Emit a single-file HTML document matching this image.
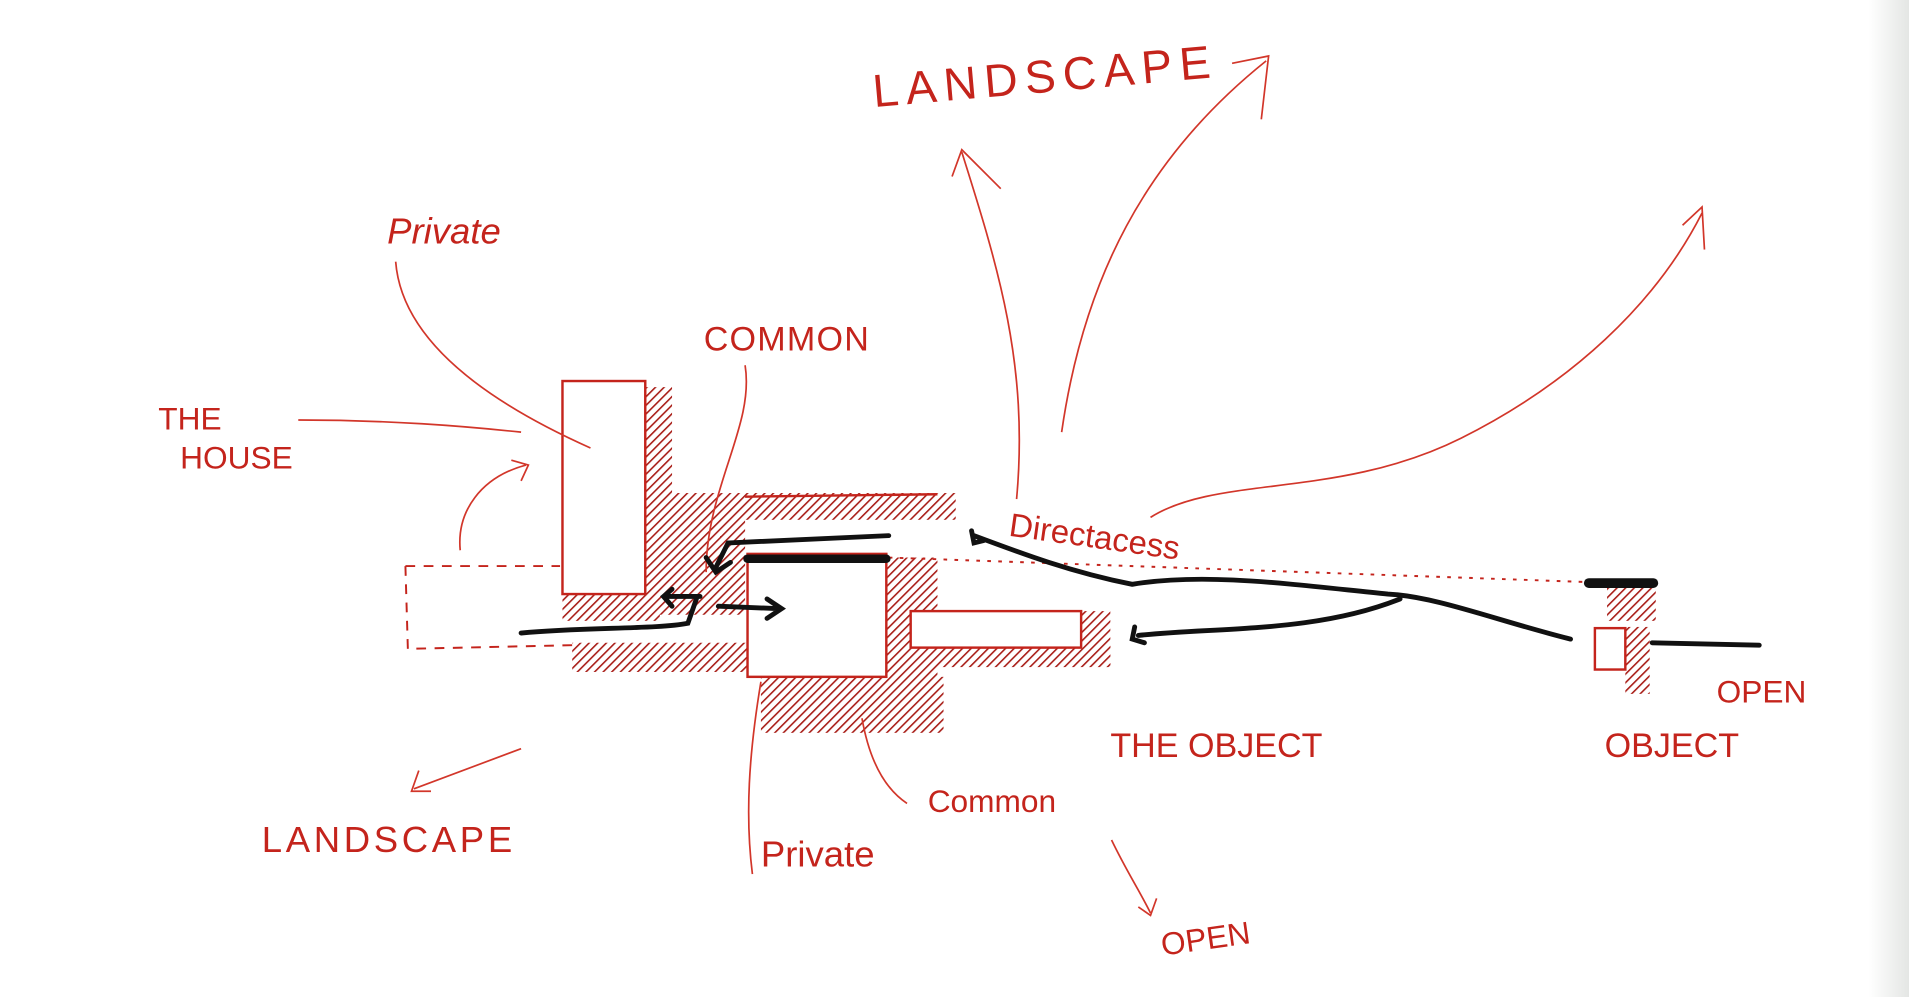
<!DOCTYPE html>
<html><head><meta charset="utf-8"><style>
html,body{margin:0;padding:0;background:#fff;overflow:hidden}
svg{display:block}
text{font-family:"Liberation Sans",sans-serif;fill:#c4241c}
</style></head><body>
<svg width="1909" height="997" viewBox="0 0 1568 819" preserveAspectRatio="none" xmlns="http://www.w3.org/2000/svg">
<defs>
<pattern id="h" width="5" height="5" patternUnits="userSpaceOnUse" patternTransform="rotate(45)">
<rect width="5" height="5" fill="#fff"/><line x1="0" y1="0" x2="0" y2="5" stroke="#a81c16" stroke-width="2.6"/>
</pattern>
<linearGradient id="sh" x1="0" x2="1"><stop offset="0" stop-color="#fff"/><stop offset="1" stop-color="#e4e6e4"/></linearGradient>
</defs>
<rect width="1568" height="819" fill="#fff"/>
<rect x="1535" y="0" width="33" height="819" fill="url(#sh)"/>
<g fill="url(#h)" stroke="none">
<rect x="530" y="318" width="22" height="180"/>
<rect x="535" y="405" width="250" height="22"/>
<rect x="530" y="425" width="82" height="80"/>
<rect x="462" y="488" width="80" height="22"/>
<rect x="470" y="528" width="145" height="24"/>
<rect x="728" y="458" width="42" height="100"/>
<rect x="625" y="556" width="150" height="46"/>
<rect x="888" y="502" width="24" height="45"/>
<rect x="728" y="530" width="184" height="18"/>
<rect x="1335" y="515" width="20" height="55"/>
<rect x="1320" y="480" width="40" height="30"/>
</g>
<g fill="#fff" stroke="#c4241c" stroke-width="2">
<rect x="462" y="313" width="68" height="175"/>
<rect x="614" y="455" width="114" height="101"/>
<rect x="748" y="502" width="140" height="30"/>
<rect x="1310" y="516" width="25" height="34"/>
<line x1="612" y1="408" x2="770" y2="406"/>
</g>
<g fill="none" stroke="#c4241c" stroke-width="1.6" stroke-dasharray="8 7">
<path d="M333 465 L460 465 M333 465 L335 533 L470 530"/>
<path d="M730 458 L1300 478" stroke-dasharray="3 6"/>
</g>
<g fill="none" stroke="#d2362a" stroke-width="1.4">
<path d="M325 215 C330 280 400 330 485 368"/>
<path d="M245 345 C320 345 380 350 428 355"/>
<path d="M378 452 C375 420 395 392 432 382 M420 378 L434 382 L428 395"/>
<path d="M612 300 C620 350 580 400 580 470"/>
<path d="M835 410 C845 300 820 220 790 125 M782 145 L790 123 L822 155"/>
<path d="M872 355 C890 230 940 130 1040 50 M1012 52 L1042 46 L1036 98"/>
<path d="M945 425 C1000 390 1100 410 1200 360 C1290 315 1360 250 1398 175 M1382 185 L1398 170 L1400 205"/>
<path d="M428 615 L340 648 M344 633 L338 650 L354 650"/>
<path d="M708 590 C715 630 730 650 745 660"/>
<path d="M625 560 C615 620 612 670 618 718"/>
<path d="M913 690 C925 715 935 730 945 750 M935 745 L945 752 L950 738"/>
</g>
<g fill="none" stroke="#111" stroke-linecap="round">
<line x1="614" y1="459" x2="728" y2="459" stroke-width="7"/>
<path d="M730 440 L598 446 L588 466 M580 458 L588 470 L600 462" stroke-width="4"/>
<path d="M428 520 C480 515 540 517 565 512 L572 492 M548 490 L575 490 M552 498 L545 490 L552 484" stroke-width="4"/>
<path d="M590 498 L640 500 M630 492 L642 500 L630 508" stroke-width="4"/>
<path d="M1290 525 C1230 510 1180 490 1140 488 C1060 480 990 470 930 480 C880 470 840 455 800 440 M798 436 L800 446 L808 444" stroke-width="4"/>
<path d="M935 522 C1000 515 1080 520 1150 492 M932 515 L930 525 L940 528" stroke-width="4"/>
<line x1="1305" y1="479" x2="1358" y2="479" stroke-width="8"/>
<line x1="1357" y1="528" x2="1445" y2="530" stroke-width="4"/>
</g>
<text x="718" y="88" font-size="38" transform="rotate(-5 718 88)" letter-spacing="6">LANDSCAPE</text>
<text x="318" y="200" font-size="30" font-style="italic">Private</text>
<text x="578" y="288" font-size="28" letter-spacing="1">COMMON</text>
<text x="130" y="353" font-size="26">THE</text>
<text x="148" y="385" font-size="26">HOUSE</text>
<text x="828" y="440" font-size="27" transform="rotate(8 828 440)">Directacess</text>
<text x="215" y="700" font-size="30" letter-spacing="3">LANDSCAPE</text>
<text x="912" y="622" font-size="28">THE OBJECT</text>
<text x="1318" y="622" font-size="28">OBJECT</text>
<text x="1410" y="577" font-size="26">OPEN</text>
<text x="762" y="667" font-size="26">Common</text>
<text x="625" y="712" font-size="30">Private</text>
<text x="955" y="785" font-size="26" transform="rotate(-8 955 785)">OPEN</text>
</svg>
</body></html>
